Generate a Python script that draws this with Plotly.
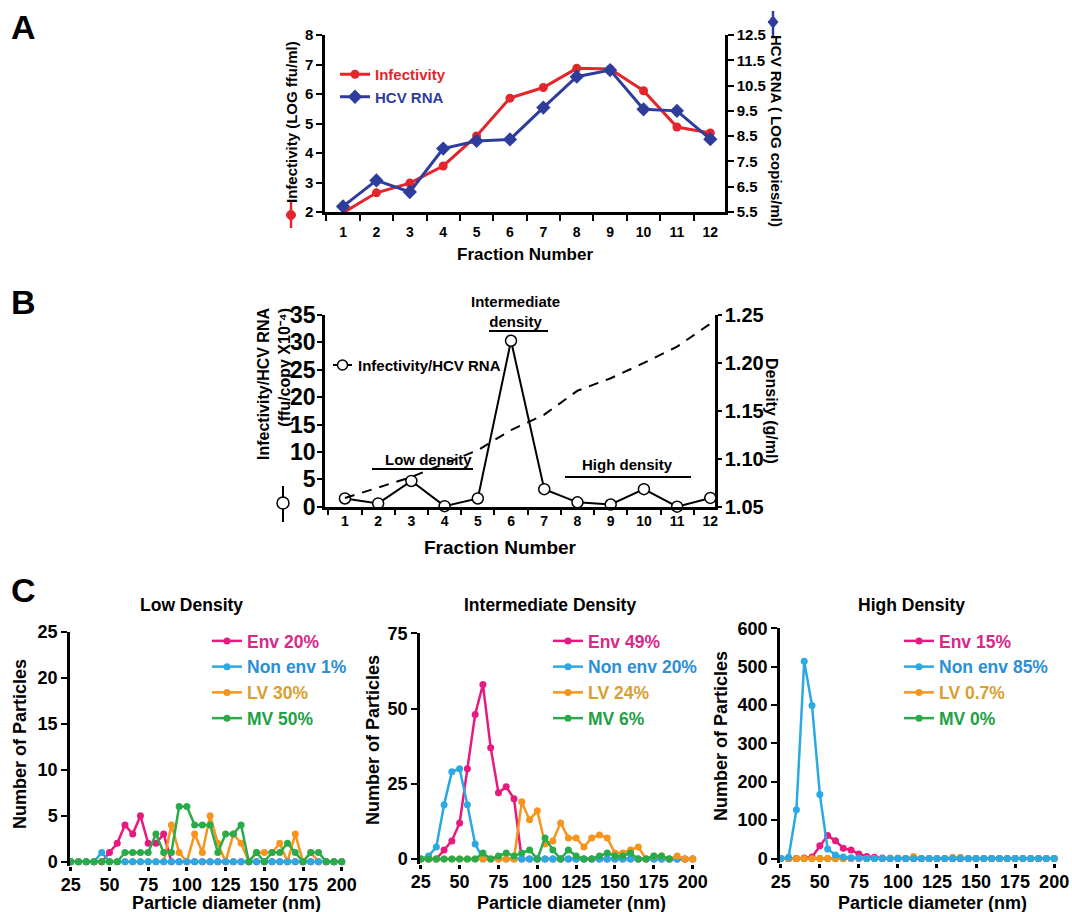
import plotly.graph_objects as go

W, H = 1072, 912
FONT = "Liberation Sans, Arial, Helvetica, sans-serif"

# ---------------- data ----------------
fractions = [str(i) for i in range(1, 13)]
infectivity_log = [1.97, 2.65, 2.98, 3.56, 4.58, 5.86, 6.22, 6.87, 6.85, 6.11, 4.88, 4.68]
hcv_rna_log = [5.72, 6.75, 6.29, 8.01, 8.31, 8.37, 9.63, 10.85, 11.11, 9.56, 9.50, 8.38]

inf_per_rna = [1.5, 0.6, 4.7, 0.1, 1.5, 30.3, 3.2, 0.8, 0.4, 3.2, 0.0, 1.6]
density = [1.059, 1.070, 1.081, 1.095, 1.109, 1.130, 1.146, 1.171, 1.184, 1.200, 1.217, 1.241]

diameters = list(range(25, 205, 5))
diam_ticks = [25, 50, 75, 100, 125, 150, 175, 200]

low_env = [0, 0, 0, 0, 0, 1, 2, 4, 3, 5, 2, 2, 3] + [0] * 23
low_non = [0, 0, 0, 0, 1, 0] + [0] * 30
low_lv = [0] * 13 + [4, 1, 0, 3, 1, 5, 2, 0, 3, 2, 0, 1, 1, 1, 2, 0, 3, 0, 1, 0, 0, 0, 0]
low_mv = [0] * 7 + [1, 1, 1, 1, 3, 1, 1, 6, 6, 4, 4, 4, 1, 3, 3, 4, 0, 1, 0, 1, 1, 2, 1, 0, 1, 1, 0, 0, 0]

mid_env = [0, 0, 0, 3, 6, 12, 30, 48, 58, 37, 22, 24, 20, 0] + [0] * 22
mid_non = [0, 1, 4, 18, 29, 30, 18, 5, 0] + [0] * 27
mid_lv = [0] * 13 + [19, 13, 16, 5, 6, 12, 7, 7, 4, 7, 8, 7, 2, 2, 3, 4, 0, 1, 1, 0, 1, 0, 0]
mid_mv = [0] * 8 + [2, 0, 1, 2, 1, 2, 3, 0, 7, 3, 0, 3, 1, 0, 0, 1, 2, 1, 1, 2, 0, 0, 1, 1, 0] + [None] * 3

high_env = [0, 0, 0, 1, 4, 33, 60, 46, 27, 22, 12, 5, 3, 1] + [0] * 22
high_non = [0, 3, 127, 514, 399, 167, 25, 9, 4, 2, 1] + [0] * 25
high_lv = [0] * 14 + [1, 1, 0, 5, 0, 0, 0, 0, 3, 3] + [0] * 12
high_mv = [0] * 36

labels_low = ["Env 20%", "Non env 1%", "LV 30%", "MV 50%"]
labels_mid = ["Env 49%", "Non env 20%", "LV 24%", "MV 6%"]
labels_high = ["Env 15%", "Non env 85%", "LV 0.7%", "MV 0%"]

# ---------------- style ----------------
C_RED, C_NAVY = "#e3262b", "#2e3d9c"
LINE_COL = ["#e8197f", "#2aa9e2", "#f7941d", "#2aab4a"]
TEXT_COL = ["#d8288a", "#2b8fd6", "#d7a030", "#22a046"]


def fx(p):
    return p / W


def fy(p):
    return 1 - p / H


def bold(size, color="black"):
    return dict(family=FONT, size=size, color=color, weight="bold")


def cspan(text, color):
    return f"<span style='color:{color}'>{text}</span>"


fig = go.Figure()

# ---------------- panel A ----------------
fig.add_trace(go.Scatter(
    x=fractions, y=infectivity_log, mode="lines+markers",
    name=cspan("Infectivity", C_RED),
    line=dict(color=C_RED, width=3), marker=dict(symbol="circle", size=9, color=C_RED),
    xaxis="x", yaxis="y", legend="legend", cliponaxis=False))
fig.add_trace(go.Scatter(
    x=fractions, y=hcv_rna_log, mode="lines+markers",
    name=cspan("HCV RNA", C_NAVY),
    line=dict(color=C_NAVY, width=3), marker=dict(symbol="diamond", size=11, color=C_NAVY),
    xaxis="x", yaxis="y2", legend="legend", cliponaxis=False))

# ---------------- panel B ----------------
fig.add_trace(go.Scatter(
    x=fractions, y=inf_per_rna, mode="lines+markers", showlegend=False,
    line=dict(color="black", width=2),
    marker=dict(symbol="circle", size=11, color="white", line=dict(color="black", width=1.5)),
    xaxis="x2", yaxis="y3", cliponaxis=False))
fig.add_trace(go.Scatter(
    x=fractions, y=density, mode="lines", showlegend=False,
    line=dict(color="black", width=2, dash="10px,8px"),
    xaxis="x2", yaxis="y4"))

# ---------------- panel C ----------------
def add_panel(xa, ya, leg, labels, series, order):
    for i in order:
        fig.add_trace(go.Scatter(
            x=diameters, y=series[i], mode="lines+markers",
            name=cspan(labels[i], TEXT_COL[i]), legendrank=i + 1,
            line=dict(color=LINE_COL[i], width=2.5),
            marker=dict(symbol="circle", size=7, color=LINE_COL[i]),
            xaxis=xa, yaxis=ya, legend=leg, cliponaxis=False))


add_panel("x3", "y5", "legend2", labels_low, [low_env, low_non, low_lv, low_mv], [0, 2, 1, 3])
add_panel("x4", "y6", "legend3", labels_mid, [mid_env, mid_non, mid_lv, mid_mv], [0, 1, 2, 3])
add_panel("x5", "y7", "legend4", labels_high, [high_env, high_non, high_lv, high_mv], [3, 0, 2, 1])

# ---------------- axes ----------------
AX = dict(showline=True, linecolor="black", linewidth=2.5, ticks="outside", tickcolor="black",
          tickwidth=2, ticklen=6, showgrid=False, zeroline=False, mirror=False, automargin=False)
CX = dict(AX, showline=False, range=[24.5, 206], tickvals=diam_ticks, ticklen=4, tickwidth=2.5,
          tickfont=bold(18), ticklabelstandoff=-2)

layout = dict(
    width=W, height=H, margin=dict(l=0, r=0, t=0, b=0, pad=0, autoexpand=False),
    paper_bgcolor="white", plot_bgcolor="rgba(0,0,0,0)",
    font=bold(14),
    # panel A
    xaxis=dict(AX, domain=[fx(325), fx(725)], type="category", range=[-0.54, 11.44],
               tickson="boundaries", tickfont=bold(14), ticklabelstandoff=5, anchor="y"),
    yaxis=dict(AX, domain=[fy(212), fy(35)], range=[2, 8], dtick=1, tickfont=bold(15), anchor="x"),
    yaxis2=dict(AX, overlaying="y", side="right", range=[5.5, 12.5],
                tickvals=[5.5, 6.5, 7.5, 8.5, 9.5, 10.5, 11.5, 12.5], tickformat=".1f",
                tickfont=bold(15), anchor="x"),
    # panel B
    xaxis2=dict(AX, domain=[fx(325), fx(715)], type="category", range=[-0.6, 11.14],
                tickson="boundaries", tickfont=bold(14), anchor="y3"),
    yaxis3=dict(AX, domain=[fy(506.7), fy(315)], range=[0, 35], dtick=5, ticklen=5,
                tickfont=bold(23), ticklabelstandoff=-3, anchor="x2"),
    yaxis4=dict(AX, overlaying="y3", side="right", range=[1.05, 1.25], dtick=0.05, tickformat=".2f",
                ticklen=4, tickfont=bold(20), ticklabelstandoff=-1, anchor="x2"),
    # panel C
    xaxis3=dict(CX, domain=[fx(70), fx(351)], anchor="y5"),
    yaxis5=dict(AX, domain=[fy(866.3), fy(631.7)], range=[-0.5, 25], dtick=5, tickfont=bold(18), anchor="x3"),
    xaxis4=dict(CX, domain=[fx(420), fx(702)], anchor="y6"),
    yaxis6=dict(AX, domain=[fy(863.5), fy(633.3)], range=[-1.5, 75], dtick=25, tickfont=bold(18), anchor="x4"),
    xaxis5=dict(CX, domain=[fx(780), fx(1063.5)], anchor="y7"),
    yaxis7=dict(AX, domain=[fy(863.1), fy(628.3)], range=[-12, 600], dtick=100, tickfont=bold(18), anchor="x5"),
    showlegend=True,
)

LEG = dict(xanchor="left", yanchor="top", bgcolor="rgba(0,0,0,0)", borderwidth=0,
           itemwidth=30, tracegroupgap=0, itemclick=False)
layout["legend"] = dict(LEG, x=fx(335), y=fy(58), font=bold(15))
layout["legend2"] = dict(LEG, x=fx(207), y=fy(623), font=bold(17.5))
layout["legend3"] = dict(LEG, x=fx(548), y=fy(623), font=bold(17.5))
layout["legend4"] = dict(LEG, x=fx(899), y=fy(623), font=bold(17.5))

fig.update_layout(**layout)

# ---------------- annotations & decorations ----------------
ann = []


def text(x, y, s, size, angle=0, xanchor="center", align="center", color="black"):
    ann.append(dict(x=fx(x), y=fy(y), xref="paper", yref="paper", text=s, showarrow=False,
                    font=bold(size, color), textangle=angle, xanchor=xanchor, yanchor="middle",
                    align=align))


# panel letters
text(23, 27, "A", 34)
text(23, 302, "B", 34)
text(23, 590, "C", 34)

# panel A titles
text(291, 122, "Infectivity (LOG ffu/ml)", 15, angle=-90)
text(776, 131, "HCV RNA ( LOG copies/ml)", 15, angle=90)
text(525, 255, "Fraction Number", 17)

# panel B titles and region labels
text(274, 384, "Infectivity/HCV RNA<br>(ffu/copy X10\u207b\u2074)", 16, angle=-90, align="right")
text(771, 411, "Density (g/ml)", 16, angle=90)
text(500, 547, "Fraction Number", 19)
text(515, 312, "Intermediate<br>density", 15)
text(428, 459, "Low density", 15)
text(627, 464, "High density", 15)
text(356, 365, "Infectivity/HCV RNA", 15, xanchor="left")

# panel C titles
text(191, 605, "Low Density", 17.5)
text(550, 605, "Intermediate Density", 17.5)
text(911, 605, "High Density", 17.5)
for xc in (226, 571, 932):
    text(xc, 903, "Particle diameter (nm)", 18)
text(20, 744, "Number of Particles", 18, angle=-90)
text(373, 740, "Number of Particles", 18, angle=-90)
text(721, 736, "Number of Particles", 18, angle=-90)

shapes = []


def pline(x0, y0, x1, y1, color="black", width=2):
    shapes.append(dict(type="line", xref="paper", yref="paper", x0=fx(x0), y0=fy(y0), x1=fx(x1), y1=fy(y1),
                       line=dict(color=color, width=width)))


def pcircle(cx, cy, r, fill, color="black", width=1.5):
    shapes.append(dict(type="circle", xref="paper", yref="paper", x0=fx(cx - r), x1=fx(cx + r),
                       y0=fy(cy + r), y1=fy(cy - r), fillcolor=fill, line=dict(color=color, width=width)))


# region bars in panel B
pline(489, 331, 548, 331)
pline(372, 469, 473, 469)
pline(565, 477, 691, 477)

# panel B legend symbol and axis-title symbol
pline(333, 365, 352, 365)
pcircle(342.5, 365, 5, "white")
pline(283, 486, 283, 522)
pcircle(283, 503, 6, "white")

# panel A axis-title symbols
pline(291, 202, 291, 228, C_RED, 2.5)
pcircle(291, 215, 4.5, C_RED, C_RED, 1)
pline(773, 11, 773, 36, C_NAVY, 2.5)
shapes.append(dict(type="path", xref="paper", yref="paper",
                   path=f"M {fx(773)} {fy(16)} L {fx(778)} {fy(22)} L {fx(773)} {fy(28)} L {fx(768)} {fy(22)} Z",
                   fillcolor=C_NAVY, line=dict(color=C_NAVY, width=1)))

fig.update_layout(annotations=ann, shapes=shapes)

fig.write_html("out.html", config={"displayModeBar": False},
               post_script="document.body.style.margin='0px';document.body.style.overflow='hidden';")
